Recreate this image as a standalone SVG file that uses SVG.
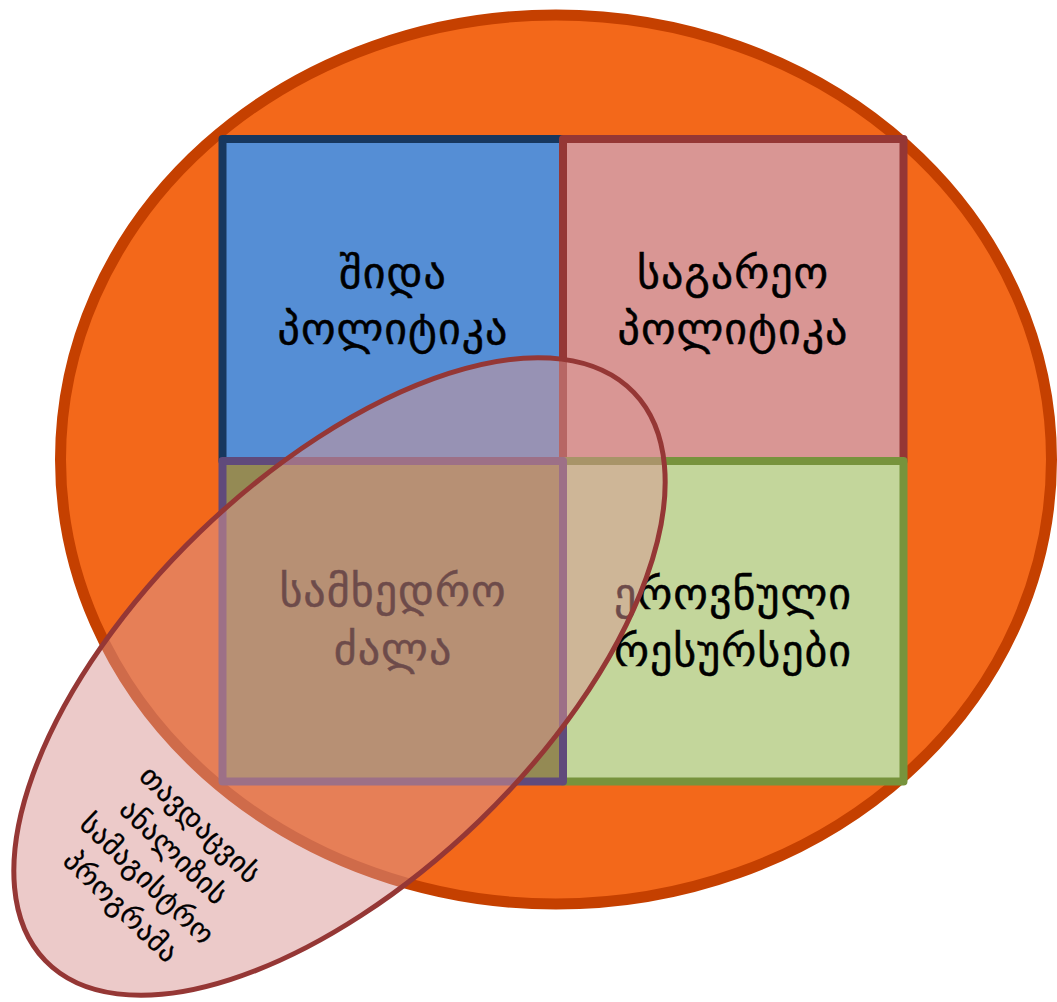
<svg xmlns="http://www.w3.org/2000/svg" width="1057" height="1002" viewBox="0 0 1057 1002">
  <style>
    .sq { stroke-width: 8; stroke-linejoin: round; }
    .lbl { font-family: "DejaVu Sans", "Noto Sans", sans-serif; font-size: 44px; letter-spacing: 1px; fill: #000; stroke: #000; stroke-width: 0.5; text-anchor: middle; }
    .dim { fill: #000; stroke: #000; }
    .small { font-family: "DejaVu Sans", "Noto Sans", sans-serif; font-size: 28.5px; letter-spacing: 0.5px; fill: #000; stroke: #000; stroke-width: 0.3; text-anchor: middle; }
  </style>
  <rect width="1057" height="1002" fill="#ffffff"/>
  <g id="outer-ellipse">
    <ellipse cx="556" cy="459.5" rx="495.5" ry="444.5" fill="#F3681A" stroke="#C54000" stroke-width="11"/>
  </g>
  <g id="node-internal-policy">
    <rect class="sq" x="222.5" y="139" width="340.5" height="322" fill="#558ED5" stroke="#17375E"/>
    <text class="lbl" x="393" y="288">შიდა</text>
    <text class="lbl" x="393" y="344">პოლიტიკა</text>
  </g>
  <g id="node-foreign-policy">
    <rect class="sq" x="563" y="139" width="340.5" height="322" fill="#D99694" stroke="#953735"/>
    <text class="lbl" x="733" y="288">საგარეო</text>
    <text class="lbl" x="733" y="344">პოლიტიკა</text>
  </g>
  <g id="node-national-resources">
    <rect class="sq" x="563" y="461" width="340.5" height="320.5" fill="#C3D69B" stroke="#77933C"/>
    <text class="lbl" x="733" y="609">ეროვნული</text>
    <text class="lbl" x="733" y="666">რესურსები</text>
  </g>
  <g id="node-military-power">
    <rect class="sq" x="222.5" y="461" width="340.5" height="320.5" fill="#948A54" stroke="#604A7B"/>
    <text class="lbl" x="393" y="606">სამხედრო</text>
    <text class="lbl" x="393" y="664">ძალა</text>
  </g>
  <g id="node-defense-analysis">
    <ellipse cx="339.5" cy="676.5" rx="409" ry="201" transform="rotate(-44 339.5 676.5)" fill="#D99694" fill-opacity="0.5" stroke="#953735" stroke-width="5"/>
    <g transform="translate(160 866) rotate(44)">
      <text class="small" x="0" y="-48">თავდაცვის</text>
      <text class="small" x="0" y="-10">ანალიზის</text>
      <text class="small" x="0" y="28">სამაგისტრო</text>
      <text class="small" x="0" y="66">პროგრამა</text>
    </g>
  </g>
  <g id="connectors"/>
</svg>
